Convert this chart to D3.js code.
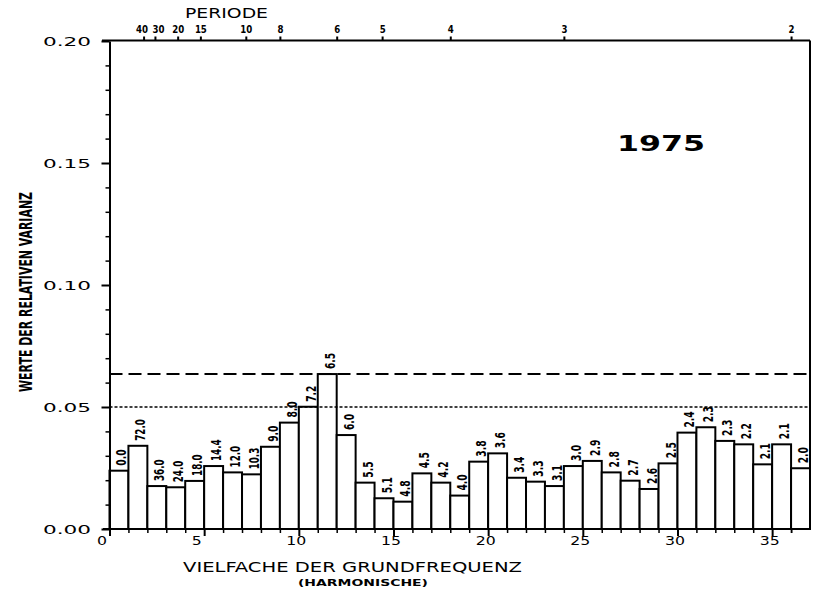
<!DOCTYPE html>
<html>
<head>
<meta charset="utf-8">
<script src="https://cdn.jsdelivr.net/npm/d3@7/dist/d3.min.js"></script>
<style>
  html, body { margin: 0; padding: 0; background: #fff; }
  svg { display: block; }
  .plot { font-family: "DejaVu Sans", sans-serif; fill: #000; }
</style>
</head>
<body>
<svg id="chart" width="816" height="596"></svg>
<script>
// Harmonic number (multiple of the fundamental frequency) of each bar
const harmonics = [0, 1, 2, 3, 4, 5, 6, 7, 8, 9, 10, 11, 12, 13, 14, 15, 16, 17, 18,
                   19, 20, 21, 22, 23, 24, 25, 26, 27, 28, 29, 30, 31, 32, 33, 34, 35, 36];

// Relative variance of each harmonic
const variance = [0.0239, 0.0341, 0.0176, 0.0171, 0.0197, 0.0258, 0.0232, 0.0224, 0.0337,
                  0.0436, 0.0501, 0.0635, 0.0385, 0.0190, 0.0126, 0.0112, 0.0228, 0.0190,
                  0.0137, 0.0276, 0.0310, 0.0210, 0.0194, 0.0176, 0.0258, 0.0279, 0.0232,
                  0.0198, 0.0164, 0.0269, 0.0395, 0.0417, 0.0361, 0.0347, 0.0265, 0.0347,
                  0.0249];

// Period written above each bar
const periodLabels = ["0.0", "72.0", "36.0", "24.0", "18.0", "14.4", "12.0", "10.3", "9.0",
                      "8.0", "7.2", "6.5", "6.0", "5.5", "5.1", "4.8", "4.5", "4.2", "4.0",
                      "3.8", "3.6", "3.4", "3.3", "3.1", "3.0", "2.9", "2.8", "2.7", "2.6",
                      "2.5", "2.4", "2.3", "2.3", "2.2", "2.1", "2.1", "2.0"];

// Periods marked on the top axis and the series length they relate to
const topPeriods = [40, 30, 20, 15, 10, 8, 6, 5, 4, 3, 2];
const seriesLength = 72;

// Significance levels (dashed and dotted reference lines)
const dashedLevel = 0.0635;
const dottedLevel = 0.05;

const yMajorTicks = [0, 0.05, 0.10, 0.15, 0.20];
const yMinorTicks = [0.01, 0.02, 0.03, 0.04, 0.06, 0.07, 0.08, 0.09, 0.11, 0.12, 0.13,
                     0.14, 0.16, 0.17, 0.18, 0.19];
const xMajorTicks = [0, 5, 10, 15, 20, 25, 30, 35];

const yearLabel = "1975";

const svg = d3.select("#chart").attr("class", "plot");
svg.append("rect").attr("width", 816).attr("height", 596).attr("fill", "#fff");

const x = d3.scaleLinear().domain([0, 37]).range([109.5, 810]);
const y = d3.scaleLinear().domain([0, 0.20]).range([529, 41]);

const strokeW = 2;

// ---- bars ----
const g = svg.append("g");
g.selectAll("rect.bar")
  .data(harmonics)
  .join("rect")
  .attr("class", "bar")
  .attr("x", d => x(d))
  .attr("width", d => x(d + 1) - x(d))
  .attr("y", (d, i) => y(variance[i]))
  .attr("height", (d, i) => y(0) - y(variance[i]))
  .attr("fill", "#fff")
  .attr("stroke", "#000")
  .attr("stroke-width", strokeW);

// ---- reference lines ----
g.append("line")
  .attr("x1", x(0)).attr("x2", x(37))
  .attr("y1", y(dashedLevel)).attr("y2", y(dashedLevel))
  .attr("stroke", "#000").attr("stroke-width", 2)
  .attr("stroke-dasharray", "13,6");
g.append("line")
  .attr("x1", x(0)).attr("x2", x(37))
  .attr("y1", y(dottedLevel)).attr("y2", y(dottedLevel))
  .attr("stroke", "#000").attr("stroke-width", 1.6)
  .attr("stroke-dasharray", "3,2");

// ---- period labels above the bars (rotated) ----
g.selectAll("text.plab")
  .data(harmonics)
  .join("text")
  .attr("class", "plab")
  .attr("transform", (d, i) =>
    `translate(${(x(d) + x(d + 1)) / 2 + 7.5},${y(variance[i]) - 5}) rotate(-90)`)
  .attr("font-family", "'Liberation Sans Narrow', 'DejaVu Sans Condensed', sans-serif")
  .attr("font-weight", "bold")
  .attr("font-size", 14)
  .attr("textLength", (d, i) => periodLabels[i].length * 5.4)
  .attr("lengthAdjust", "spacingAndGlyphs")
  .text((d, i) => periodLabels[i]);

// ---- left axis ----
const yAxis = svg.append("g")
  .attr("transform", `translate(${x(0)},0)`)
  .call(d3.axisLeft(y).tickValues(yMajorTicks).tickFormat(d3.format(".2f"))
        .tickSize(8).tickPadding(10.5).tickSizeOuter(0));
yAxis.select(".domain").attr("stroke-width", strokeW);
yAxis.selectAll(".tick line").attr("stroke-width", strokeW);
yAxis.selectAll(".tick text")
  .attr("font-family", "'DejaVu Sans', sans-serif")
  .attr("font-size", 12)
  .attr("dy", "0.36em")
  .attr("textLength", 48)
  .attr("lengthAdjust", "spacingAndGlyphs")
  .attr("fill", "#000");

const yMinor = svg.append("g")
  .attr("transform", `translate(${x(0)},0)`)
  .call(d3.axisLeft(y).tickValues(yMinorTicks).tickFormat("").tickSize(4).tickSizeOuter(0));
yMinor.select(".domain").remove();
yMinor.selectAll(".tick line").attr("stroke-width", 1.5);

// ---- bottom axis ----
const xAxis = svg.append("g")
  .attr("transform", `translate(0,${y(0)})`)
  .call(d3.axisBottom(x).tickValues(xMajorTicks).tickFormat(d3.format("d"))
        .tickSize(7).tickSizeOuter(0));
xAxis.select(".domain").remove();
xAxis.selectAll(".tick line").attr("stroke-width", strokeW);
xAxis.selectAll(".tick text")
  .attr("font-family", "'DejaVu Sans', sans-serif")
  .attr("font-size", 12)
  .attr("text-anchor", "start")
  .attr("x", -13)
  .attr("y", 16)
  .attr("dy", 0)
  .attr("textLength", d => String(d).length * 10)
  .attr("lengthAdjust", "spacingAndGlyphs")
  .attr("fill", "#000");

const xMinor = svg.append("g")
  .attr("transform", `translate(0,${y(0)})`)
  .call(d3.axisBottom(x).tickValues(harmonics.filter(h => h % 5 !== 0).concat([36]))
        .tickFormat("").tickSize(4).tickSizeOuter(0));
xMinor.select(".domain").remove();
xMinor.selectAll(".tick line").attr("stroke-width", 1.5);

// ---- top axis: period ----
const xTop = svg.append("g")
  .attr("transform", `translate(0,40.5)`)
  .call(d3.axisTop(x).tickValues(topPeriods.map(p => seriesLength / p))
        .tickFormat((d, i) => String(topPeriods[i]))
        .tickSize(4).tickPadding(3.5).tickSizeOuter(0));
xTop.select(".domain").remove();
xTop.selectAll(".tick line").attr("stroke-width", strokeW);
// the two leftmost period labels sit very close; nudge them apart
const topNudge = { 40: -2, 30: 3 };
xTop.selectAll(".tick text")
  .attr("font-family", "'DejaVu Sans', sans-serif")
  .attr("font-weight", "bold")
  .attr("font-size", 10)
  .attr("dx", (d, i) => topNudge[topPeriods[i]] || 0)
  .attr("textLength", (d, i) => String(topPeriods[i]).length * 6)
  .attr("lengthAdjust", "spacingAndGlyphs")
  .attr("fill", "#000");

// ---- frame lines ----
const frame = svg.append("g").attr("stroke", "#000").attr("stroke-width", strokeW);
frame.append("line").attr("x1", 102).attr("x2", x(37)).attr("y1", 40.5).attr("y2", 40.5);
frame.append("line").attr("x1", 103).attr("x2", x(37)).attr("y1", y(0)).attr("y2", y(0));
frame.append("line").attr("x1", x(37)).attr("x2", x(37)).attr("y1", 40.5).attr("y2", y(0));

// ---- titles ----
svg.append("text")
  .attr("x", 185).attr("y", 18)
  .attr("font-family", "'DejaVu Sans', sans-serif")
  .attr("font-size", 13.5)
  .attr("textLength", 83).attr("lengthAdjust", "spacingAndGlyphs")
  .text("PERIODE");

svg.append("text")
  .attr("x", 183).attr("y", 572)
  .attr("font-family", "'DejaVu Sans', sans-serif")
  .attr("font-size", 13.5)
  .attr("textLength", 339).attr("lengthAdjust", "spacingAndGlyphs")
  .text("VIELFACHE DER GRUNDFREQUENZ");

svg.append("text")
  .attr("x", 298).attr("y", 586)
  .attr("font-family", "'DejaVu Sans', sans-serif")
  .attr("font-weight", "bold")
  .attr("font-size", 8)
  .attr("textLength", 130).attr("lengthAdjust", "spacingAndGlyphs")
  .text("(HARMONISCHE)");

svg.append("text")
  .attr("transform", "translate(32,392) rotate(-90)")
  .attr("font-family", "'Liberation Sans Narrow', 'DejaVu Sans Condensed', sans-serif")
  .attr("font-weight", "bold")
  .attr("font-size", 17)
  .attr("textLength", 200).attr("lengthAdjust", "spacingAndGlyphs")
  .text("WERTE DER RELATIVEN VARIANZ");

svg.append("text")
  .attr("x", 617).attr("y", 151)
  .attr("font-family", "'DejaVu Sans', sans-serif")
  .attr("font-weight", "bold")
  .attr("font-size", 21)
  .attr("textLength", 88).attr("lengthAdjust", "spacingAndGlyphs")
  .text(yearLabel);
</script>
</body>
</html>
